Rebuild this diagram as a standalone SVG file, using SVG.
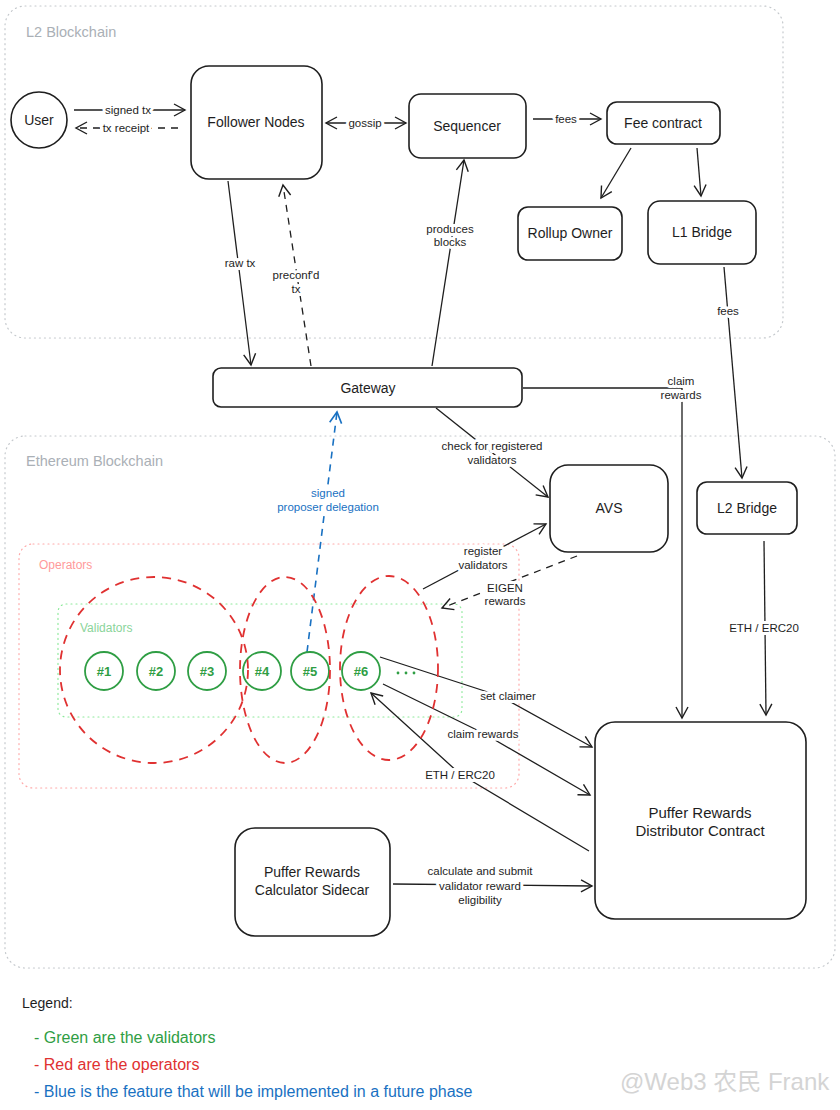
<svg xmlns="http://www.w3.org/2000/svg" width="840" height="1110" viewBox="0 0 840 1110">
<style>
text { font-family: "Liberation Sans", Arial, sans-serif; fill: #1e1e1e; }
.node { fill: #fff; stroke: #1e1e1e; stroke-width: 1.6; }
.title { font-size: 14px; text-anchor: middle; dominant-baseline: central; }
.big { font-size: 15px; }
.lbl { font-size: 11.5px; text-anchor: middle; dominant-baseline: central; paint-order: stroke; stroke: #fff; stroke-width: 6px; stroke-linejoin: round; }
.edge { fill: none; stroke: #1e1e1e; stroke-width: 1.3; }
.dash { stroke-dasharray: 7 6; }
.frame { fill: none; stroke-width: 1.2; stroke-dasharray: 1 4; stroke-linecap: round; }
.flabel { font-size: 14.5px; fill: #aab0b6; }
.val { fill: #fff; stroke: #2f9e44; stroke-width: 1.8; }
.valt { font-size: 13px; font-weight: bold; fill: #2f9e44; text-anchor: middle; dominant-baseline: central; }
.op { fill: none; stroke: #e03131; stroke-width: 1.8; stroke-dasharray: 9 7; }
.legend { font-size: 16px; }
</style>
<defs>
<marker id="ah" markerUnits="userSpaceOnUse" markerWidth="16" markerHeight="16" refX="12" refY="8" orient="auto-start-reverse">
<path d="M1,2 L12,8 L1,14" fill="none" stroke="#1e1e1e" stroke-width="1.4"/>
</marker>
<marker id="ahb" markerUnits="userSpaceOnUse" markerWidth="16" markerHeight="16" refX="12" refY="8" orient="auto-start-reverse">
<path d="M1,2 L12,8 L1,14" fill="none" stroke="#1971c2" stroke-width="1.6"/>
</marker>
</defs>
<rect x="0" y="0" width="840" height="1110" fill="#fff"/>

<g id="frames">
<rect class="frame" x="5" y="6" width="778" height="332" rx="20" stroke="#c4c8cc"/>
<text class="flabel" x="26" y="37">L2 Blockchain</text>
<rect class="frame" x="5" y="436" width="830" height="532" rx="20" stroke="#c4c8cc"/>
<text class="flabel" x="26" y="466">Ethereum Blockchain</text>
<rect class="frame" x="19" y="544" width="500" height="244" rx="14" stroke="#ffa8a8"/>
<text x="39" y="569" style="fill:#ff9a9a;font-size:12px">Operators</text>
<rect class="frame" x="58" y="604" width="404" height="113" rx="8" stroke="#8ce99a"/>
<text x="80" y="632" style="fill:#8ad49a;font-size:12px">Validators</text>
</g>

<g id="connectors">
<path class="edge" d="M74,110 L185,110" marker-end="url(#ah)"/>
<text class="lbl" x="128" y="110">signed tx</text>
<path class="edge dash" d="M178,128 L76,128" marker-end="url(#ah)"/>
<text class="lbl" x="126" y="128">tx receipt</text>
<path class="edge" d="M326,123 L406,123" marker-start="url(#ah)" marker-end="url(#ah)"/>
<text class="lbl" x="365" y="123">gossip</text>
<path class="edge" d="M533,119 L601,119" marker-end="url(#ah)"/>
<text class="lbl" x="566" y="119">fees</text>
<path class="edge" d="M631,148 L601,198" marker-end="url(#ah)"/>
<path class="edge" d="M697,148 L701,196" marker-end="url(#ah)"/>
<path class="edge" d="M724,267 L742,478" marker-end="url(#ah)"/>
<text class="lbl" x="728" y="311">fees</text>
<path class="edge" d="M228,181 L251,365" marker-end="url(#ah)"/>
<text class="lbl" x="240" y="263">raw tx</text>
<path class="edge dash" d="M311,366 L283,185" marker-end="url(#ah)"/>
<text class="lbl" x="296" y="275">preconf'd</text>
<text class="lbl" x="296" y="289">tx</text>
<path class="edge" d="M432,366 L464,160" marker-end="url(#ah)"/>
<text class="lbl" x="450" y="229">produces</text>
<text class="lbl" x="450" y="242">blocks</text>
<path class="edge" d="M523,388 H682 V718" marker-end="url(#ah)"/>
<text class="lbl" x="681" y="381">claim</text>
<text class="lbl" x="681" y="395">rewards</text>
<path class="edge" d="M436,408 L548,497" marker-end="url(#ah)"/>
<text class="lbl" x="492" y="446">check for registered</text>
<text class="lbl" x="492" y="460">validators</text>
<path class="edge" d="M423,589 L546,524" marker-end="url(#ah)"/>
<text class="lbl" x="483" y="551">register</text>
<text class="lbl" x="483" y="565">validators</text>
<path class="edge dash" d="M577,556 L442,608" marker-end="url(#ah)"/>
<text class="lbl" x="505" y="588">EIGEN</text>
<text class="lbl" x="505" y="601">rewards</text>
<path class="edge" d="M380,657 L500,696 L592,747" marker-end="url(#ah)"/>
<text class="lbl" x="508" y="696">set claimer</text>
<path class="edge" d="M383,684 L483,733 L590,795" marker-end="url(#ah)"/>
<text class="lbl" x="483" y="734">claim rewards</text>
<path class="edge" d="M589,851 L460,774 L371,693" marker-end="url(#ah)"/>
<text class="lbl" x="460" y="775">ETH / ERC20</text>
<path class="edge" d="M393,884 L592,886" marker-end="url(#ah)"/>
<text class="lbl" x="480" y="871">calculate and submit</text>
<text class="lbl" x="480" y="886">validator reward</text>
<text class="lbl" x="480" y="900">eligibility</text>
<path class="edge" d="M764,541 L766,715" marker-end="url(#ah)"/>
<text class="lbl" x="764" y="628">ETH / ERC20</text>
<path class="edge dash" d="M307,652 L337,412" style="stroke:#1971c2;stroke-width:1.6" marker-end="url(#ahb)"/>
<text class="lbl" x="328" y="493" style="fill:#1971c2">signed</text>
<text class="lbl" x="328" y="507" style="fill:#1971c2">proposer delegation</text>
</g>

<g id="user"><circle class="node" cx="39" cy="120" r="28"/><text class="title" x="39" y="120">User</text></g>
<g id="follower-nodes"><rect class="node" x="191" y="66" width="131" height="113" rx="18"/><text class="title" x="256" y="122">Follower Nodes</text></g>
<g id="sequencer"><rect class="node" x="409" y="94" width="117" height="64" rx="12"/><text class="title" x="467" y="126">Sequencer</text></g>
<g id="fee-contract"><rect class="node" x="607" y="102" width="113" height="42" rx="10"/><text class="title" x="663" y="123">Fee contract</text></g>
<g id="rollup-owner"><rect class="node" x="518" y="207" width="104" height="53" rx="10"/><text class="title" x="570" y="233">Rollup Owner</text></g>
<g id="l1-bridge"><rect class="node" x="648" y="201" width="108" height="63" rx="12"/><text class="title" x="702" y="232">L1 Bridge</text></g>
<g id="gateway"><rect class="node" x="213" y="368" width="309" height="39" rx="8"/><text class="title" x="368" y="388">Gateway</text></g>
<g id="avs"><rect class="node" x="550" y="465" width="118" height="87" rx="18"/><text class="title" x="609" y="508">AVS</text></g>
<g id="l2-bridge"><rect class="node" x="697" y="482" width="100" height="52" rx="10"/><text class="title" x="747" y="508">L2 Bridge</text></g>
<g id="distributor"><rect class="node" x="595" y="722" width="211" height="197" rx="20"/><text class="title big" x="700" y="812">Puffer Rewards</text><text class="title big" x="700" y="830">Distributor Contract</text></g>
<g id="calculator"><rect class="node" x="235" y="828" width="155" height="108" rx="20"/><text class="title" x="312" y="872">Puffer Rewards</text><text class="title" x="312" y="890">Calculator Sidecar</text></g>

<g id="validators">
<circle class="val" cx="104" cy="671" r="19"/><text class="valt" x="104" y="671">#1</text>
<circle class="val" cx="156" cy="671" r="19"/><text class="valt" x="156" y="671">#2</text>
<circle class="val" cx="207" cy="671" r="19"/><text class="valt" x="207" y="671">#3</text>
<circle class="val" cx="262" cy="671" r="19"/><text class="valt" x="262" y="671">#4</text>
<circle class="val" cx="310" cy="671" r="19"/><text class="valt" x="310" y="671">#5</text>
<circle class="val" cx="361" cy="671" r="19"/><text class="valt" x="361" y="671">#6</text>
<circle cx="398" cy="673" r="1.4" fill="#2f9e44"/><circle cx="406" cy="673" r="1.4" fill="#2f9e44"/><circle cx="414" cy="673" r="1.4" fill="#2f9e44"/>
</g>

<g id="operators">
<ellipse class="op" cx="154" cy="670" rx="94" ry="93"/>
<ellipse class="op" cx="285" cy="670" rx="45" ry="93"/>
<ellipse class="op" cx="389" cy="668" rx="49" ry="92"/>
</g>

<g id="legend">
<text x="22" y="1008" style="font-size:14px">Legend:</text>
<text class="legend" x="34" y="1043" style="fill:#2f9e44">- Green are the validators</text>
<text class="legend" x="34" y="1070" style="fill:#e03131">- Red are the operators</text>
<text class="legend" x="34" y="1097" style="fill:#1971c2">- Blue is the feature that will be implemented in a future phase</text>
</g>

<text x="620" y="1090" style="font-family:'Liberation Sans','Noto Sans CJK SC',sans-serif;font-size:24px;fill:#d4d4d4">@Web3 农民 Frank</text>
</svg>
